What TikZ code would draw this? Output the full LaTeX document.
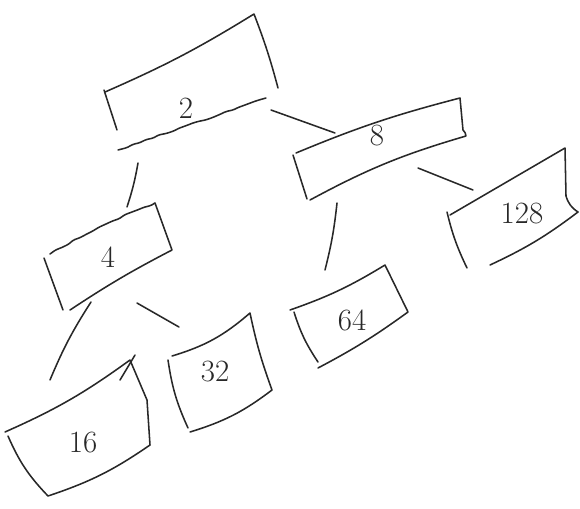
\documentclass[tikz,border=0pt]{standalone}
\usepackage{xcolor}
\usepackage{tikz}
\usetikzlibrary{decorations.pathmorphing}
\definecolor{pencil}{RGB}{40,40,40}

\tikzset{
  sketch/.style={draw=pencil, line width=1.1pt, line cap=round, line join=round},
  wobbly/.style={sketch, decorate, decoration={random steps, segment length=5pt, amplitude=0.6pt}, rounded corners=1pt},
  digit/.style={text=pencil, font=\fontsize{22}{26}\selectfont}
}

\begin{document}
\begin{tikzpicture}[x=0.025cm, y=-0.025cm]
\useasboundingbox (0,0) rectangle (580,508);

% box 2
\draw[sketch] (105,92) to[bend right=4] (254,14) to[bend left=3] (278,88);
\draw[wobbly] (266,98) -- (118,150);
\draw[sketch] (104,90) -- (117,130);
\node[digit] (n2) at (186,108) {2};

% box 8
\draw[sketch] (296,153) to[bend left=4] (460,98) -- (463,130) to[bend left=20] (466,136) to[bend right=6] (310,200);
\draw[sketch] (293,155) -- (307,199);
\node[digit] (n8) at (377,136) {8};

% box 128
\draw[sketch] (450,215) -- (565,148) -- (566,196) to[bend right=20] (578,212) to[bend left=6] (490,265);
\draw[sketch] (447,212) to[bend right=6] (467,268);
\node[digit] (n128) at (522,214) {128};

% box 4
\draw[wobbly] (50,254) to[bend left=4] (155,203);
\draw[sketch] (155,203) -- (172,250) to[bend right=3] (70,310);
\draw[sketch] (44,258) -- (63,310);
\node[digit] (n4) at (108,257) {4};

% box 16
\draw[sketch] (5,432) to[bend right=6] (130,360) -- (147,400) -- (150,445) to[bend left=8] (48,496) to[bend left=10] (8,436);
\draw[sketch] (120,380) -- (135,355);
\node[digit] (n16) at (83,443) {16};

% box 32
\draw[sketch] (172,356) to[bend right=12] (250,313) to[bend right=4] (272,390) to[bend left=10] (190,432);
\draw[sketch] (168,360) to[bend right=8] (188,428);
\node[digit] (n32) at (215,372) {32};

% box 64
\draw[sketch] (290,310) to[bend right=6] (385,265) -- (408,312) to[bend left=4] (318,368);
\draw[sketch] (294,312) to[bend right=8] (318,362);
\node[digit] (n64) at (352,320) {64};

% connector ends
\coordinate (a2) at (271,110);   \coordinate (b8) at (335,133);
\coordinate (c2) at (138,163);   \coordinate (d4) at (127,207);
\coordinate (a8) at (337,203);   \coordinate (b64) at (325,270);
\coordinate (c8) at (418,168);   \coordinate (d128) at (473,190);
\coordinate (a4) at (91,302);    \coordinate (b16) at (50,380);
\coordinate (c4) at (137,303);   \coordinate (d32) at (179,327);

% connectors
\draw[sketch] (a2) -- (b8);
\draw[sketch] (c2) to[bend left=4] (d4);
\draw[sketch] (a8) to[bend left=4] (b64);
\draw[sketch] (c8) -- (d128);
\draw[sketch] (a4) to[bend right=5] (b16);
\draw[sketch] (c4) -- (d32);

\end{tikzpicture}
\end{document}
